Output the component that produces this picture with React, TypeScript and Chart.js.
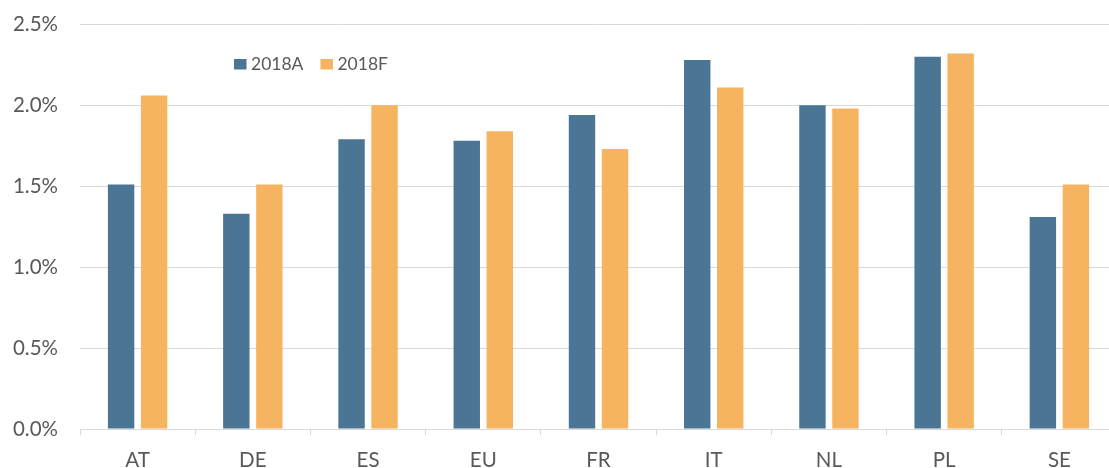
import React, { useEffect, useRef } from "react";
import { Chart, registerables } from "chart.js";

Chart.register(...registerables);

const categories = ["AT", "DE", "ES", "EU", "FR", "IT", "NL", "PL", "SE"];
const actual2018 = [1.51, 1.33, 1.79, 1.78, 1.94, 2.28, 2.0, 2.3, 1.31];
const forecast2018 = [2.06, 1.51, 2.0, 1.84, 1.73, 2.11, 1.98, 2.32, 1.51];
const seriesNames = ["2018A", "2018F"];
const seriesColors = ["#4a7594", "#f6b360"];
const yTicks = [0, 0.5, 1.0, 1.5, 2.0, 2.5];

const FONT = "Lato, 'Open Sans', sans-serif";
const TEXT = "#595959";
const GRID = "#d9d9d9";
const SHIFT = 10;

const legendPlugin = {
  id: "insideLegend",
  afterDraw(chart: any) {
    const ctx = chart.ctx;
    ctx.save();
    ctx.font = `17.5px ${FONT}`;
    ctx.textBaseline = "middle";
    ctx.textAlign = "left";
    let x = 234;
    const y = 64 + SHIFT;
    chart.data.datasets.forEach((ds: any) => {
      ctx.fillStyle = ds.backgroundColor;
      ctx.fillRect(x, y - 5, 12.5, 10.5);
      ctx.fillStyle = TEXT;
      ctx.fillText(ds.label, x + 17, y);
      x += 17 + ctx.measureText(ds.label).width + 17;
    });
    ctx.restore();
  },
};

export default function App() {
  const ref = useRef<HTMLCanvasElement>(null);
  useEffect(() => {
    if (!ref.current) return;
    const chart = new Chart(ref.current, {
      type: "bar",
      data: {
        labels: categories,
        datasets: [
          {
            label: seriesNames[0],
            data: actual2018,
            backgroundColor: seriesColors[0],
            categoryPercentage: 0.573,
            barPercentage: 0.8,
          },
          {
            label: seriesNames[1],
            data: forecast2018,
            backgroundColor: seriesColors[1],
            categoryPercentage: 0.573,
            barPercentage: 0.8,
          },
        ],
      },
      options: {
        animation: false,
        responsive: false,
        maintainAspectRatio: false,
        layout: {
          autoPadding: false,
          padding: { top: 24, left: 0, right: 0, bottom: 0 },
        },
        plugins: { legend: { display: false }, tooltip: { enabled: false } },
        scales: {
          x: {
            afterFit: (s: any) => {
              s.height = 46;
            },
            grid: {
              display: true,
              drawOnChartArea: false,
              drawTicks: true,
              tickLength: 6,
              color: GRID,
              offset: true,
            },
            border: { display: true, color: GRID },
            ticks: {
              color: TEXT,
              font: { family: FONT, size: 20.5 },
              padding: 13,
              maxRotation: 0,
            },
          },
          y: {
            min: 0,
            max: 2.5,
            afterFit: (s: any) => {
              s.width = 80;
            },
            afterBuildTicks: (s: any) => {
              s.ticks = yTicks.map((v) => ({ value: v }));
            },
            grid: { color: GRID, drawTicks: false },
            border: { display: false },
            ticks: {
              color: TEXT,
              font: { family: FONT, size: 20.5 },
              padding: 22,
              callback: (v: any) => Number(v).toFixed(1) + "%",
            },
          },
        },
      },
      plugins: [legendPlugin],
    });
    return () => chart.destroy();
  }, []);
  return (
    <div
      style={{
        position: "fixed",
        left: 0,
        top: 0,
        width: 1109,
        height: 468,
        overflow: "hidden",
        background: "#ffffff",
      }}
    >
      <canvas
        ref={ref}
        width={1117}
        height={485}
        style={{ display: "block", width: 1117, height: 485, marginTop: -SHIFT }}
      />
    </div>
  );
}
